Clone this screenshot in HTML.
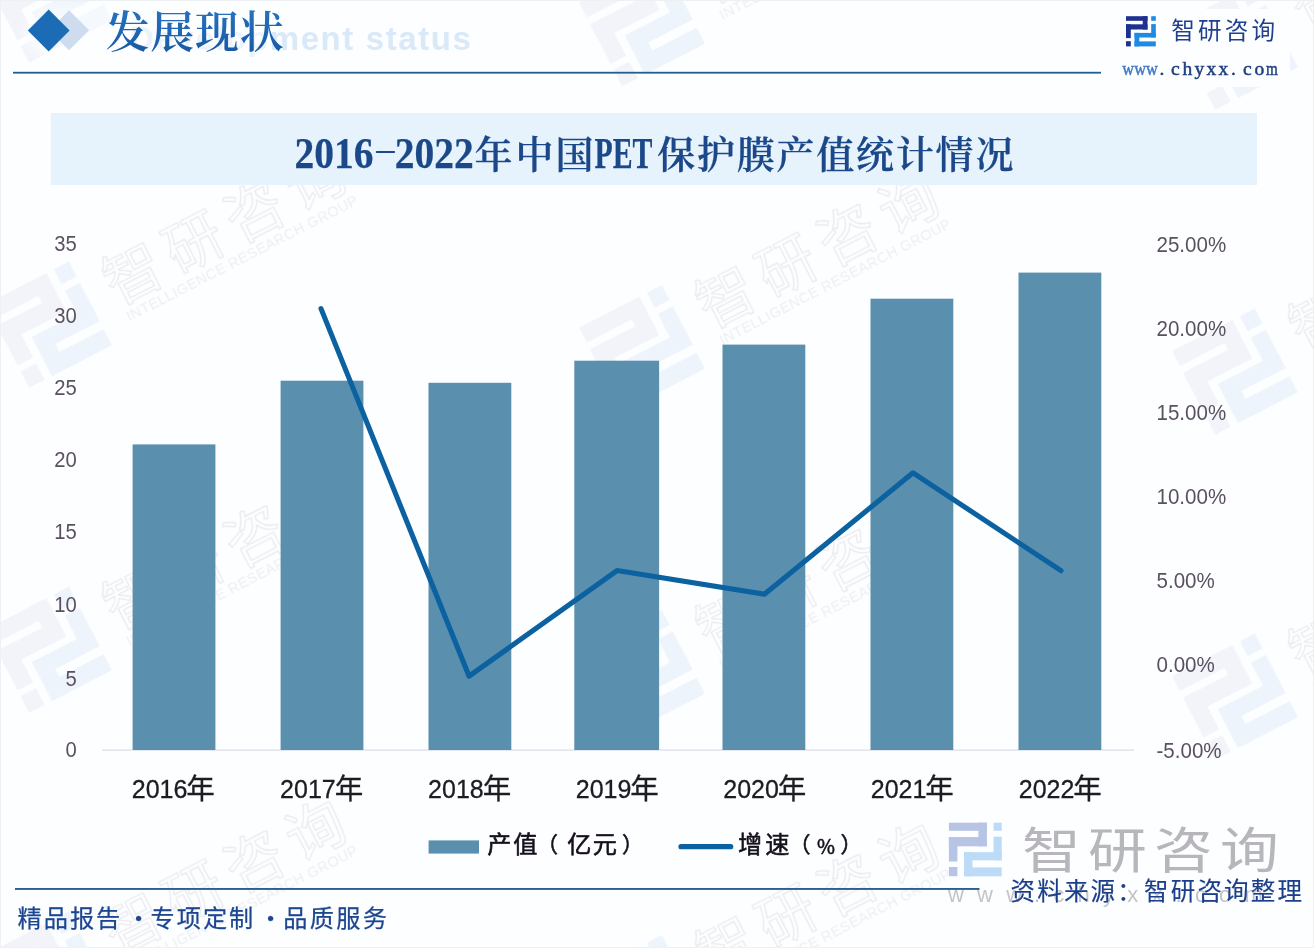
<!DOCTYPE html>
<html lang="zh-CN">
<head>
<meta charset="utf-8">
<title>2016-2022年中国PET保护膜产值统计情况</title>
<style>
html,body{margin:0;padding:0;background:#fff;}
body{width:1314px;height:948px;overflow:hidden;position:relative;}
svg{position:absolute;left:0;top:0;display:block;}
.sans{font-family:"Liberation Sans","Noto Sans CJK SC",sans-serif;}
.cjk{font-family:"Noto Sans CJK SC","Liberation Sans",sans-serif;}
.tc{font-family:"Noto Sans CJK TC","Noto Sans CJK SC",sans-serif;}
.serif{font-family:"Liberation Serif","Noto Serif CJK SC",serif;}
.cserif{font-family:"Noto Serif CJK SC","Liberation Serif",serif;}
</style>
</head>
<body>
<svg width="1314" height="948" viewBox="0 0 1314 948">
<defs>
  <linearGradient id="hg" x1="0" y1="0" x2="0" y2="1">
    <stop offset="0" stop-color="#2a78c8"/>
    <stop offset="1" stop-color="#15559f"/>
  </linearGradient>
  <filter id="soft" x="-20%" y="-40%" width="140%" height="180%"><feGaussianBlur stdDeviation="6"/></filter>
</defs>
<rect x="0" y="0" width="1314" height="948" fill="#fdfeff"/>
<!-- WATERMARKS -->
<g id="wm">
<filter id="wb" x="-10%" y="-10%" width="120%" height="120%"><feGaussianBlur stdDeviation="0.7"/></filter>
<g filter="url(#wb)" transform="translate(49.0,-0.3) rotate(-27.2)">
<g fill="#f2f4fa" stroke="#f2f4fa" stroke-width="3">
<rect x="-45.0" y="-45.6" width="64.8" height="13.8"/>
<rect x="5.3" y="-45.6" width="14.5" height="40.3"/>
<rect x="-45.0" y="-21.1" width="64.8" height="15.7"/>
<rect x="-45.0" y="-21.1" width="14.5" height="41.5"/>
<rect x="-45.0" y="29.9" width="14.5" height="15.7"/>
</g>
<g fill="#edf4fc" stroke="#edf4fc" stroke-width="3">
<rect x="31.2" y="-45.6" width="13.8" height="13.8"/>
<rect x="31.2" y="-21.7" width="13.8" height="40.3"/>
<rect x="-19.2" y="4.7" width="64.2" height="13.8"/>
<rect x="-19.2" y="4.7" width="14.5" height="40.9"/>
<rect x="-19.2" y="30.5" width="64.2" height="15.1"/>
</g>
<text class="cjk" font-size="58" fill="none" stroke="#e9eaee" stroke-width="1.2" y="14" x="69 137.3 205.6 274">智研咨询</text>
<text class="sans" font-size="14.5" fill="#eeeff2" x="73" y="34" textLength="258" lengthAdjust="spacing">INTELLIGENCE RESEARCH GROUP</text>
</g>
<g filter="url(#wb)" transform="translate(49.0,324.7) rotate(-27.2)">
<g fill="#f2f4fa" stroke="#f2f4fa" stroke-width="3">
<rect x="-45.0" y="-45.6" width="64.8" height="13.8"/>
<rect x="5.3" y="-45.6" width="14.5" height="40.3"/>
<rect x="-45.0" y="-21.1" width="64.8" height="15.7"/>
<rect x="-45.0" y="-21.1" width="14.5" height="41.5"/>
<rect x="-45.0" y="29.9" width="14.5" height="15.7"/>
</g>
<g fill="#edf4fc" stroke="#edf4fc" stroke-width="3">
<rect x="31.2" y="-45.6" width="13.8" height="13.8"/>
<rect x="31.2" y="-21.7" width="13.8" height="40.3"/>
<rect x="-19.2" y="4.7" width="64.2" height="13.8"/>
<rect x="-19.2" y="4.7" width="14.5" height="40.9"/>
<rect x="-19.2" y="30.5" width="64.2" height="15.1"/>
</g>
<text class="cjk" font-size="58" fill="none" stroke="#e9eaee" stroke-width="1.2" y="14" x="69 137.3 205.6 274">智研咨询</text>
<text class="sans" font-size="14.5" fill="#eeeff2" x="73" y="34" textLength="258" lengthAdjust="spacing">INTELLIGENCE RESEARCH GROUP</text>
</g>
<g filter="url(#wb)" transform="translate(49.0,649.7) rotate(-27.2)">
<g fill="#f2f4fa" stroke="#f2f4fa" stroke-width="3">
<rect x="-45.0" y="-45.6" width="64.8" height="13.8"/>
<rect x="5.3" y="-45.6" width="14.5" height="40.3"/>
<rect x="-45.0" y="-21.1" width="64.8" height="15.7"/>
<rect x="-45.0" y="-21.1" width="14.5" height="41.5"/>
<rect x="-45.0" y="29.9" width="14.5" height="15.7"/>
</g>
<g fill="#edf4fc" stroke="#edf4fc" stroke-width="3">
<rect x="31.2" y="-45.6" width="13.8" height="13.8"/>
<rect x="31.2" y="-21.7" width="13.8" height="40.3"/>
<rect x="-19.2" y="4.7" width="64.2" height="13.8"/>
<rect x="-19.2" y="4.7" width="14.5" height="40.9"/>
<rect x="-19.2" y="30.5" width="64.2" height="15.1"/>
</g>
<text class="cjk" font-size="58" fill="none" stroke="#e9eaee" stroke-width="1.2" y="14" x="69 137.3 205.6 274">智研咨询</text>
<text class="sans" font-size="14.5" fill="#eeeff2" x="73" y="34" textLength="258" lengthAdjust="spacing">INTELLIGENCE RESEARCH GROUP</text>
</g>
<g filter="url(#wb)" transform="translate(49.0,974.7) rotate(-27.2)">
<g fill="#f2f4fa" stroke="#f2f4fa" stroke-width="3">
<rect x="-45.0" y="-45.6" width="64.8" height="13.8"/>
<rect x="5.3" y="-45.6" width="14.5" height="40.3"/>
<rect x="-45.0" y="-21.1" width="64.8" height="15.7"/>
<rect x="-45.0" y="-21.1" width="14.5" height="41.5"/>
<rect x="-45.0" y="29.9" width="14.5" height="15.7"/>
</g>
<g fill="#edf4fc" stroke="#edf4fc" stroke-width="3">
<rect x="31.2" y="-45.6" width="13.8" height="13.8"/>
<rect x="31.2" y="-21.7" width="13.8" height="40.3"/>
<rect x="-19.2" y="4.7" width="64.2" height="13.8"/>
<rect x="-19.2" y="4.7" width="14.5" height="40.9"/>
<rect x="-19.2" y="30.5" width="64.2" height="15.1"/>
</g>
<text class="cjk" font-size="58" fill="none" stroke="#e9eaee" stroke-width="1.2" y="14" x="69 137.3 205.6 274">智研咨询</text>
<text class="sans" font-size="14.5" fill="#eeeff2" x="73" y="34" textLength="258" lengthAdjust="spacing">INTELLIGENCE RESEARCH GROUP</text>
</g>
<g filter="url(#wb)" transform="translate(642.0,23.2) rotate(-27.2)">
<g fill="#f2f4fa" stroke="#f2f4fa" stroke-width="3">
<rect x="-45.0" y="-45.6" width="64.8" height="13.8"/>
<rect x="5.3" y="-45.6" width="14.5" height="40.3"/>
<rect x="-45.0" y="-21.1" width="64.8" height="15.7"/>
<rect x="-45.0" y="-21.1" width="14.5" height="41.5"/>
<rect x="-45.0" y="29.9" width="14.5" height="15.7"/>
</g>
<g fill="#edf4fc" stroke="#edf4fc" stroke-width="3">
<rect x="31.2" y="-45.6" width="13.8" height="13.8"/>
<rect x="31.2" y="-21.7" width="13.8" height="40.3"/>
<rect x="-19.2" y="4.7" width="64.2" height="13.8"/>
<rect x="-19.2" y="4.7" width="14.5" height="40.9"/>
<rect x="-19.2" y="30.5" width="64.2" height="15.1"/>
</g>
<text class="cjk" font-size="58" fill="none" stroke="#e9eaee" stroke-width="1.2" y="14" x="69 137.3 205.6 274">智研咨询</text>
<text class="sans" font-size="14.5" fill="#eeeff2" x="73" y="34" textLength="258" lengthAdjust="spacing">INTELLIGENCE RESEARCH GROUP</text>
</g>
<g filter="url(#wb)" transform="translate(642.0,348.2) rotate(-27.2)">
<g fill="#f2f4fa" stroke="#f2f4fa" stroke-width="3">
<rect x="-45.0" y="-45.6" width="64.8" height="13.8"/>
<rect x="5.3" y="-45.6" width="14.5" height="40.3"/>
<rect x="-45.0" y="-21.1" width="64.8" height="15.7"/>
<rect x="-45.0" y="-21.1" width="14.5" height="41.5"/>
<rect x="-45.0" y="29.9" width="14.5" height="15.7"/>
</g>
<g fill="#edf4fc" stroke="#edf4fc" stroke-width="3">
<rect x="31.2" y="-45.6" width="13.8" height="13.8"/>
<rect x="31.2" y="-21.7" width="13.8" height="40.3"/>
<rect x="-19.2" y="4.7" width="64.2" height="13.8"/>
<rect x="-19.2" y="4.7" width="14.5" height="40.9"/>
<rect x="-19.2" y="30.5" width="64.2" height="15.1"/>
</g>
<text class="cjk" font-size="58" fill="none" stroke="#e9eaee" stroke-width="1.2" y="14" x="69 137.3 205.6 274">智研咨询</text>
<text class="sans" font-size="14.5" fill="#eeeff2" x="73" y="34" textLength="258" lengthAdjust="spacing">INTELLIGENCE RESEARCH GROUP</text>
</g>
<g filter="url(#wb)" transform="translate(642.0,673.2) rotate(-27.2)">
<g fill="#f2f4fa" stroke="#f2f4fa" stroke-width="3">
<rect x="-45.0" y="-45.6" width="64.8" height="13.8"/>
<rect x="5.3" y="-45.6" width="14.5" height="40.3"/>
<rect x="-45.0" y="-21.1" width="64.8" height="15.7"/>
<rect x="-45.0" y="-21.1" width="14.5" height="41.5"/>
<rect x="-45.0" y="29.9" width="14.5" height="15.7"/>
</g>
<g fill="#edf4fc" stroke="#edf4fc" stroke-width="3">
<rect x="31.2" y="-45.6" width="13.8" height="13.8"/>
<rect x="31.2" y="-21.7" width="13.8" height="40.3"/>
<rect x="-19.2" y="4.7" width="64.2" height="13.8"/>
<rect x="-19.2" y="4.7" width="14.5" height="40.9"/>
<rect x="-19.2" y="30.5" width="64.2" height="15.1"/>
</g>
<text class="cjk" font-size="58" fill="none" stroke="#e9eaee" stroke-width="1.2" y="14" x="69 137.3 205.6 274">智研咨询</text>
<text class="sans" font-size="14.5" fill="#eeeff2" x="73" y="34" textLength="258" lengthAdjust="spacing">INTELLIGENCE RESEARCH GROUP</text>
</g>
<g filter="url(#wb)" transform="translate(642.0,998.2) rotate(-27.2)">
<g fill="#f2f4fa" stroke="#f2f4fa" stroke-width="3">
<rect x="-45.0" y="-45.6" width="64.8" height="13.8"/>
<rect x="5.3" y="-45.6" width="14.5" height="40.3"/>
<rect x="-45.0" y="-21.1" width="64.8" height="15.7"/>
<rect x="-45.0" y="-21.1" width="14.5" height="41.5"/>
<rect x="-45.0" y="29.9" width="14.5" height="15.7"/>
</g>
<g fill="#edf4fc" stroke="#edf4fc" stroke-width="3">
<rect x="31.2" y="-45.6" width="13.8" height="13.8"/>
<rect x="31.2" y="-21.7" width="13.8" height="40.3"/>
<rect x="-19.2" y="4.7" width="64.2" height="13.8"/>
<rect x="-19.2" y="4.7" width="14.5" height="40.9"/>
<rect x="-19.2" y="30.5" width="64.2" height="15.1"/>
</g>
<text class="cjk" font-size="58" fill="none" stroke="#e9eaee" stroke-width="1.2" y="14" x="69 137.3 205.6 274">智研咨询</text>
<text class="sans" font-size="14.5" fill="#eeeff2" x="73" y="34" textLength="258" lengthAdjust="spacing">INTELLIGENCE RESEARCH GROUP</text>
</g>
<g filter="url(#wb)" transform="translate(1235.0,46.7) rotate(-27.2)">
<g fill="#f2f4fa" stroke="#f2f4fa" stroke-width="3">
<rect x="-45.0" y="-45.6" width="64.8" height="13.8"/>
<rect x="5.3" y="-45.6" width="14.5" height="40.3"/>
<rect x="-45.0" y="-21.1" width="64.8" height="15.7"/>
<rect x="-45.0" y="-21.1" width="14.5" height="41.5"/>
<rect x="-45.0" y="29.9" width="14.5" height="15.7"/>
</g>
<g fill="#edf4fc" stroke="#edf4fc" stroke-width="3">
<rect x="31.2" y="-45.6" width="13.8" height="13.8"/>
<rect x="31.2" y="-21.7" width="13.8" height="40.3"/>
<rect x="-19.2" y="4.7" width="64.2" height="13.8"/>
<rect x="-19.2" y="4.7" width="14.5" height="40.9"/>
<rect x="-19.2" y="30.5" width="64.2" height="15.1"/>
</g>
<text class="cjk" font-size="58" fill="none" stroke="#e9eaee" stroke-width="1.2" y="14" x="69 137.3 205.6 274">智研咨询</text>
<text class="sans" font-size="14.5" fill="#eeeff2" x="73" y="34" textLength="258" lengthAdjust="spacing">INTELLIGENCE RESEARCH GROUP</text>
</g>
<g filter="url(#wb)" transform="translate(1235.0,371.7) rotate(-27.2)">
<g fill="#f2f4fa" stroke="#f2f4fa" stroke-width="3">
<rect x="-45.0" y="-45.6" width="64.8" height="13.8"/>
<rect x="5.3" y="-45.6" width="14.5" height="40.3"/>
<rect x="-45.0" y="-21.1" width="64.8" height="15.7"/>
<rect x="-45.0" y="-21.1" width="14.5" height="41.5"/>
<rect x="-45.0" y="29.9" width="14.5" height="15.7"/>
</g>
<g fill="#edf4fc" stroke="#edf4fc" stroke-width="3">
<rect x="31.2" y="-45.6" width="13.8" height="13.8"/>
<rect x="31.2" y="-21.7" width="13.8" height="40.3"/>
<rect x="-19.2" y="4.7" width="64.2" height="13.8"/>
<rect x="-19.2" y="4.7" width="14.5" height="40.9"/>
<rect x="-19.2" y="30.5" width="64.2" height="15.1"/>
</g>
<text class="cjk" font-size="58" fill="none" stroke="#e9eaee" stroke-width="1.2" y="14" x="69 137.3 205.6 274">智研咨询</text>
<text class="sans" font-size="14.5" fill="#eeeff2" x="73" y="34" textLength="258" lengthAdjust="spacing">INTELLIGENCE RESEARCH GROUP</text>
</g>
<g filter="url(#wb)" transform="translate(1235.0,696.7) rotate(-27.2)">
<g fill="#f2f4fa" stroke="#f2f4fa" stroke-width="3">
<rect x="-45.0" y="-45.6" width="64.8" height="13.8"/>
<rect x="5.3" y="-45.6" width="14.5" height="40.3"/>
<rect x="-45.0" y="-21.1" width="64.8" height="15.7"/>
<rect x="-45.0" y="-21.1" width="14.5" height="41.5"/>
<rect x="-45.0" y="29.9" width="14.5" height="15.7"/>
</g>
<g fill="#edf4fc" stroke="#edf4fc" stroke-width="3">
<rect x="31.2" y="-45.6" width="13.8" height="13.8"/>
<rect x="31.2" y="-21.7" width="13.8" height="40.3"/>
<rect x="-19.2" y="4.7" width="64.2" height="13.8"/>
<rect x="-19.2" y="4.7" width="14.5" height="40.9"/>
<rect x="-19.2" y="30.5" width="64.2" height="15.1"/>
</g>
<text class="cjk" font-size="58" fill="none" stroke="#e9eaee" stroke-width="1.2" y="14" x="69 137.3 205.6 274">智研咨询</text>
<text class="sans" font-size="14.5" fill="#eeeff2" x="73" y="34" textLength="258" lengthAdjust="spacing">INTELLIGENCE RESEARCH GROUP</text>
</g>
<g filter="url(#wb)" transform="translate(1235.0,1021.7) rotate(-27.2)">
<g fill="#f2f4fa" stroke="#f2f4fa" stroke-width="3">
<rect x="-45.0" y="-45.6" width="64.8" height="13.8"/>
<rect x="5.3" y="-45.6" width="14.5" height="40.3"/>
<rect x="-45.0" y="-21.1" width="64.8" height="15.7"/>
<rect x="-45.0" y="-21.1" width="14.5" height="41.5"/>
<rect x="-45.0" y="29.9" width="14.5" height="15.7"/>
</g>
<g fill="#edf4fc" stroke="#edf4fc" stroke-width="3">
<rect x="31.2" y="-45.6" width="13.8" height="13.8"/>
<rect x="31.2" y="-21.7" width="13.8" height="40.3"/>
<rect x="-19.2" y="4.7" width="64.2" height="13.8"/>
<rect x="-19.2" y="4.7" width="14.5" height="40.9"/>
<rect x="-19.2" y="30.5" width="64.2" height="15.1"/>
</g>
<text class="cjk" font-size="58" fill="none" stroke="#e9eaee" stroke-width="1.2" y="14" x="69 137.3 205.6 274">智研咨询</text>
<text class="sans" font-size="14.5" fill="#eeeff2" x="73" y="34" textLength="258" lengthAdjust="spacing">INTELLIGENCE RESEARCH GROUP</text>
</g>
</g>
<!-- HEADER -->
<g id="header">
  <rect x="26" y="4" width="250" height="52" rx="20" fill="#fdfeff" opacity="0.55" filter="url(#soft)"/>
  <polygon points="69,10.3 89,30.3 69,50.3 49,30.3" fill="#cddcee"/>
  <polygon points="48.7,9.6 69.6,30.5 48.7,51.4 27.8,30.5" fill="#1c6cb5"/>
  <text class="sans" x="472.5" y="50.2" font-size="33" font-weight="bold" fill="#d9e9f8" text-anchor="end" letter-spacing="1.6"><tspan fill="#ecf3fb">Develop</tspan>ment status</text>
  <text class="cserif" x="105.6 150.3 195 239.7" y="48" font-size="44" font-weight="600" fill="url(#hg)">发展现状</text>
  <rect x="13" y="71.8" width="1088" height="1.8" fill="#1f5e8f"/>
</g>
<!-- LOGO -->
<g id="logo">
<rect x="1114" y="9" width="176" height="78" fill="#fdfeff"/>
<g fill="#1f3190">
<rect x="1126.0" y="16.2" width="21.5" height="4.6"/>
<rect x="1142.7" y="16.2" width="4.8" height="13.3"/>
<rect x="1126.0" y="24.3" width="21.5" height="5.2"/>
<rect x="1126.0" y="24.3" width="4.8" height="13.8"/>
<rect x="1126.0" y="41.2" width="4.8" height="5.2"/>
</g>
<g fill="#1f8ae2">
<rect x="1151.2" y="16.2" width="4.6" height="4.6"/>
<rect x="1151.2" y="24.1" width="4.6" height="13.3"/>
<rect x="1134.5" y="32.9" width="21.3" height="4.6"/>
<rect x="1134.5" y="32.9" width="4.8" height="13.5"/>
<rect x="1134.5" y="41.4" width="21.3" height="5.0"/>
</g>
  <text class="cjk" x="1171.3" y="38.5" font-size="23.6" fill="#1f3f8f" letter-spacing="3.1">智研咨询</text>
  <text class="serif" y="75" font-size="19.5" fill="#1f3f80" stroke="#1f3f80" stroke-width="0.5"><tspan x="1122.3" textLength="35.5" lengthAdjust="spacingAndGlyphs" fill="#3f78c4" stroke="#3f78c4">www</tspan><tspan x="1159.5">.</tspan><tspan x="1171 1182.5 1194.5 1206.5 1218.5">chyxx</tspan><tspan x="1231">.</tspan><tspan x="1243 1254.5">co</tspan><tspan x="1266" textLength="11.8" lengthAdjust="spacingAndGlyphs">m</tspan></text>
</g>
<!-- TITLE -->
<g id="title">
  <rect x="50.8" y="113" width="1206.2" height="72" fill="#e6f2fc"/>
  <g font-weight="bold" fill="#1b4888" stroke="#1b4888" stroke-width="0.25">
    <text class="serif" font-size="43.6" y="167.8"><tspan x="294.5" textLength="79" lengthAdjust="spacingAndGlyphs">2016</tspan></text>
    <text class="serif" font-size="41" transform="translate(373.4,158.2) scale(1.75,0.55)">-</text>
    <text class="serif" font-size="43.6" y="167.8"><tspan x="394.8" textLength="79" lengthAdjust="spacingAndGlyphs">2022</tspan></text>
    <text class="cserif" font-size="38" font-weight="600" y="168" x="474.5 515.5 555.5">年中国</text>
    <text class="serif" font-size="43.6" y="167.8"><tspan x="594.5" textLength="58" lengthAdjust="spacingAndGlyphs">PET</tspan></text>
    <text class="cserif" font-size="38" font-weight="600" y="168" x="657.3 697.1 736.8 776.6 816.3 856.1 895.9 935.6 975.4">保护膜产值统计情况</text>
  </g>
</g>
<!-- CHART -->
<g id="chart">
  <rect x="102" y="749.5" width="1032" height="1.2" fill="#d9dde6"/>
  <g fill="#5b8fae">
    <rect x="132.6" y="444.4" width="82.8" height="305.6"/>
    <rect x="280.6" y="380.7" width="82.8" height="369.3"/>
    <rect x="428.5" y="382.8" width="82.8" height="367.2"/>
    <rect x="574.3" y="360.7" width="84.8" height="389.3"/>
    <rect x="722.5" y="344.6" width="82.8" height="405.4"/>
    <rect x="870.5" y="298.7" width="82.8" height="451.3"/>
    <rect x="1018.5" y="272.6" width="82.8" height="477.4"/>
  </g>
  <polyline points="321,308.6 469.1,676.2 617,570.6 764.4,594.2 913,472.8 1061,570.7" fill="none" stroke="#0c62a0" stroke-width="5.1" stroke-linecap="round" stroke-linejoin="round"/>
  <g class="sans" font-size="22" fill="#5a5160" text-anchor="end">
    <text transform="translate(76.8,250.9) scale(0.92,1)">35</text>
    <text transform="translate(76.8,322.9) scale(0.92,1)">30</text>
    <text transform="translate(76.8,395.2) scale(0.92,1)">25</text>
    <text transform="translate(76.8,466.9) scale(0.92,1)">20</text>
    <text transform="translate(76.8,539.2) scale(0.92,1)">15</text>
    <text transform="translate(76.8,611.6) scale(0.92,1)">10</text>
    <text transform="translate(76.8,685.6) scale(0.92,1)">5</text>
    <text transform="translate(76.8,756.9) scale(0.92,1)">0</text>
  </g>
  <g class="sans" font-size="22" fill="#5a5160" text-anchor="start">
    <text transform="translate(1156.5,251.8) scale(0.935,1)">25.00%</text>
    <text transform="translate(1156.5,336.2) scale(0.935,1)">20.00%</text>
    <text transform="translate(1156.5,420.0) scale(0.935,1)">15.00%</text>
    <text transform="translate(1156.5,503.7) scale(0.935,1)">10.00%</text>
    <text transform="translate(1156.5,588.1) scale(0.935,1)">5.00%</text>
    <text transform="translate(1156.5,671.8) scale(0.935,1)">0.00%</text>
    <text transform="translate(1156.5,757.6) scale(0.935,1)">-5.00%</text>
  </g>
  <g class="sans" font-size="25" fill="#1c1c22" stroke="#1c1c22" stroke-width="0.3">
    <text x="131.8" y="797.8">2016<tspan class="cjk" font-size="28.5" dx="-1.1" dy="1.2">年</tspan></text>
    <text x="280.1" y="797.8">2017<tspan class="cjk" font-size="28.5" dx="-1.1" dy="1.2">年</tspan></text>
    <text x="428.1" y="797.8">2018<tspan class="cjk" font-size="28.5" dx="-1.1" dy="1.2">年</tspan></text>
    <text x="575.8" y="797.8">2019<tspan class="cjk" font-size="28.5" dx="-1.1" dy="1.2">年</tspan></text>
    <text x="723.3" y="797.8">2020<tspan class="cjk" font-size="28.5" dx="-1.1" dy="1.2">年</tspan></text>
    <text x="870.8" y="797.8">2021<tspan class="cjk" font-size="28.5" dx="-1.1" dy="1.2">年</tspan></text>
    <text x="1018.8" y="797.8">2022<tspan class="cjk" font-size="28.5" dx="-1.1" dy="1.2">年</tspan></text>
  </g>
</g>
<!-- LEGEND -->
<g id="legend">
  <rect x="428.6" y="840.4" width="50.4" height="13.2" fill="#5b8fae"/>
  <text class="cjk" y="853.3" font-size="24.2" fill="#15101c" stroke="#15101c" stroke-width="0.55"><tspan x="487.3 513.2">产值</tspan><tspan font-size="21.5" x="536.5" dy="-1.2">（</tspan><tspan x="567.2 592.7" dy="1.2">亿元</tspan><tspan font-size="21.5" x="622" dy="-1.2">）</tspan></text>
  <line x1="681" y1="846.7" x2="730.7" y2="846.7" stroke="#0c62a0" stroke-width="5.2" stroke-linecap="round"/>
  <text class="cjk" y="853.3" font-size="24.2" fill="#15101c" stroke="#15101c" stroke-width="0.55"><tspan x="738 765.2">增速</tspan><tspan font-size="21.5" x="789" dy="-1.2">（</tspan><tspan font-size="19.5" x="817" dy="1.5">%</tspan><tspan font-size="21.5" x="840.5" dy="-1.5">）</tspan></text>
</g>
<!-- FOOTER -->
<g id="footer">
<g id="biglogo">
<g fill="#b8c4e3">
<rect x="948.9" y="822.7" width="38.0" height="8.1"/>
<rect x="978.4" y="822.7" width="8.5" height="23.6"/>
<rect x="948.9" y="837.1" width="38.0" height="9.2"/>
<rect x="948.9" y="837.1" width="8.5" height="24.4"/>
<rect x="948.9" y="867.0" width="8.5" height="9.2"/>
</g>
<g fill="#bcdbf7">
<rect x="993.6" y="822.7" width="8.1" height="8.1"/>
<rect x="993.6" y="836.7" width="8.1" height="23.6"/>
<rect x="964.0" y="852.2" width="37.7" height="8.1"/>
<rect x="964.0" y="852.2" width="8.5" height="24.0"/>
<rect x="964.0" y="867.4" width="37.7" height="8.9"/>
</g>
    <text class="cjk" font-size="49" fill="#b6b6bb" transform="translate(1022,868) scale(1.2,1)" x="0 55 110 165">智研咨询</text>
    <text class="sans" y="902" font-size="22" fill="#c4c4c8" x="948" letter-spacing="13.2">www.chyxx.com</text>
  </g>
  <rect x="15" y="888" width="964.5" height="1.9" fill="#2a5f8e"/>
  <text class="cjk" x="17.5 43.7 69.9 96.1 121.7 126.6 147.7 150.5 176.7 202.9 229.1 254.7 258.6 279.7 283.3 309.8 336.3 362.8" y="926.8" font-size="24.2" fill="#1c4690" stroke="#1c4690" stroke-width="0.25">精品报告 · 专项定制 · 品质服务</text>
  <text class="cjk" x="1010.5" y="899.5" font-size="24.5" fill="#1b3f8b" stroke="#1b3f8b" stroke-width="0.15" letter-spacing="2.2">资料来源<tspan class="tc">：</tspan>智研咨询整理</text>
</g>
<rect x="0.5" y="0.5" width="1313" height="947" fill="none" stroke="#eef1f4" stroke-width="1"/>
</svg>
</body>
</html>
